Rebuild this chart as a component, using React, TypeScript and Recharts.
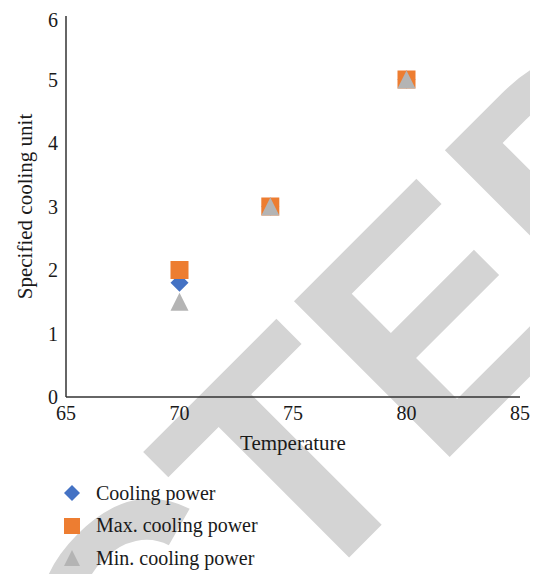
import { ScatterChart, Scatter, XAxis, YAxis, Legend } from "recharts";

const temperatures = [70, 74, 80];
const coolingPower = [1.8, 3, 5];
const maxCoolingPower = [2, 3, 5];
const minCoolingPower = [1.5, 3, 5];
const xTicks = [65, 70, 75, 80, 85];
const yTicks = [0, 1, 2, 3, 4, 5, 6];

const SERIES = [
  { name: "Cooling power", values: coolingPower, color: "#4472C4", kind: "diamond" },
  { name: "Max. cooling power", values: maxCoolingPower, color: "#ED7D31", kind: "square" },
  { name: "Min. cooling power", values: minCoolingPower, color: "#B4B4B4", kind: "triangle" },
];

const FONT = '"Liberation Serif", "Times New Roman", serif';

const marker = (kind: string, cx: number, cy: number, r: number, fill: string) => {
  if (kind === "diamond") {
    return (
      <polygon
        points={`${cx},${cy - r} ${cx + r},${cy} ${cx},${cy + r} ${cx - r},${cy}`}
        fill={fill}
      />
    );
  }
  if (kind === "square") {
    return <rect x={cx - r} y={cy - r} width={r * 2} height={r * 2} fill={fill} />;
  }
  return (
    <polygon
      points={`${cx},${cy - r} ${cx + r},${cy + r} ${cx - r},${cy + r}`}
      fill={fill}
    />
  );
};

const LegendBox = () => (
  <div
    style={{
      height: 100,
      boxSizing: "border-box",
      paddingTop: 3,
      paddingLeft: 56,
      fontFamily: FONT,
    }}
  >
    {SERIES.map((s) => (
      <div
        key={s.name}
        style={{ height: 32.5, display: "flex", alignItems: "center" }}
      >
        <svg width={16} height={16} style={{ marginRight: 16 }}>
          {marker(s.kind, 8, 8, 8, s.color)}
        </svg>
        <span style={{ fontSize: 20, color: "#1a1a1a" }}>{s.name}</span>
      </div>
    ))}
  </div>
);

// diagonal "RETRACTED" stamp behind the chart, split at the second T
const Watermark = () => (
  <svg
    width={538}
    height={574}
    style={{ position: "absolute", left: -8, top: -8, zIndex: 0 }}
  >
    <g
      transform="rotate(-45)"
      fontFamily='"Liberation Sans", Arial, sans-serif'
      fontWeight="bold"
      fontSize={320}
      fill="#D4D4D4"
    >
      <text>
        <tspan x={-214} y={656} textAnchor="end">RETRAC</tspan>
        <tspan x={-222} y={641} textAnchor="start">TED</tspan>
      </text>
    </g>
  </svg>
);

export default function App() {
  return (
    <div style={{ position: "relative", width: 530, height: 566 }}>
      <Watermark />
      <div style={{ position: "relative", zIndex: 1 }}>
        <ScatterChart
          width={530}
          height={566}
          margin={{ top: 8, right: 18, bottom: 0, left: 0 }}
        >
          <XAxis
            type="number"
            dataKey="x"
            domain={[65, 85]}
            ticks={xTicks}
            tickLine={false}
            tickMargin={3}
            axisLine={{ stroke: "#333", strokeWidth: 1.5 }}
            tick={{ fill: "#1a1a1a", fontSize: 20, fontFamily: FONT }}
            height={77}
            label={{
              value: "Temperature",
              position: "insideBottom",
              offset: 24,
              fill: "#1a1a1a",
              fontSize: 21,
              fontFamily: FONT,
            }}
          />
          <YAxis
            type="number"
            dataKey="y"
            domain={[0, 6]}
            ticks={yTicks}
            tickLine={false}
            axisLine={{ stroke: "#333", strokeWidth: 1.5 }}
            tick={{ fill: "#1a1a1a", fontSize: 20, fontFamily: FONT }}
            width={58}
            label={({ viewBox }: any) => {
              const x = viewBox.x + 24;
              const y = viewBox.y + viewBox.height / 2;
              return (
                <text
                  x={x}
                  y={y}
                  textAnchor="middle"
                  transform={`rotate(-90 ${x} ${y})`}
                  fill="#1a1a1a"
                  fontSize={21}
                  fontFamily={FONT}
                >
                  Specified cooling unit
                </text>
              );
            }}
          />
          <Legend
            layout="horizontal"
            verticalAlign="bottom"
            align="left"
            content={() => <LegendBox />}
          />
          {SERIES.map((s) => (
            <Scatter
              key={s.name}
              name={s.name}
              data={temperatures.map((t, i) => ({ x: t, y: s.values[i] }))}
              fill={s.color}
              isAnimationActive={false}
              shape={(p: any) => marker(s.kind, p.cx, p.cy, 9, s.color)}
            />
          ))}
        </ScatterChart>
      </div>
    </div>
  );
}
